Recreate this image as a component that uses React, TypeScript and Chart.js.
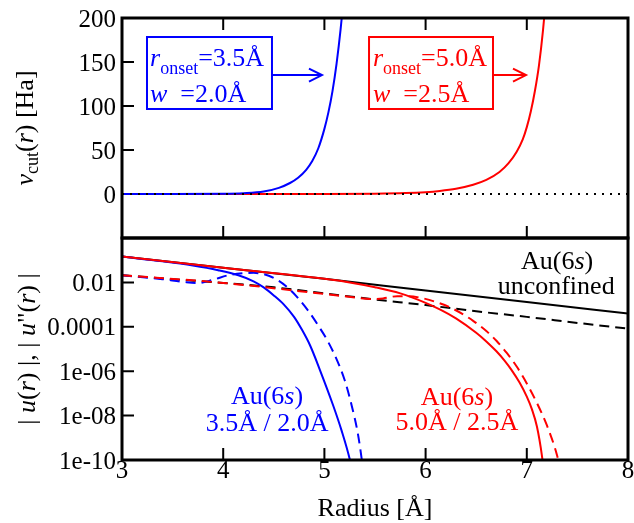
import React, { useEffect, useRef } from "react";
import { Chart, registerables } from "chart.js";

Chart.register(...registerables);

const SERIF = '"Liberation Serif", "Times New Roman", "DejaVu Serif", serif';
Chart.defaults.font.family = SERIF;
const FS_TICK = 25;
const FS = 26;
const BLUE = "#0000ff";
const RED = "#ff0000";
const BLACK = "#000000";

// ---------- axes ----------
const xMin = 3;
const xMax = 8;
const xTickValues = [3, 4, 5, 6, 7, 8];
const xTickLabels = ["3", "4", "5", "6", "7", "8"];
const xTitle = "Radius [Å]";
const topYMin = -50;
const topYMax = 200;
const topYTickValues = [0, 50, 100, 150, 200];
const topYTickLabels = ["0", "50", "100", "150", "200"];
const botYMin = 1e-10;
const botYMax = 1;
const botYTickValues = [1e-10, 1e-8, 1e-6, 1e-4, 1e-2];
const botYTickLabels = ["1e-10", "1e-08", "1e-06", "0.0001", "0.01"];

// ---------- top panel: v_cut(r) [Ha] ----------
const zeroR = [3, 8];
const zeroV = [0, 0];
const vcutBlueR = [3, 3.5, 4.0, 4.2, 4.4, 4.55, 4.66, 4.74, 4.82, 4.88, 4.94, 5.0, 5.04, 5.08, 5.12, 5.16, 5.2];
const vcutBlueV = [0, 0, 0.25, 0.9, 2.8, 7, 12.5, 18.5, 27.5, 37.5, 52, 74, 93, 117, 148, 187, 236];
const vcutRedR = [3, 5.0, 5.5, 5.8, 6.0, 6.14, 6.3, 6.47, 6.6, 6.73, 6.82, 6.9, 6.96, 7.0, 7.04, 7.08, 7.12, 7.16, 7.2];
const vcutRedV = [0, 0, 0.3, 1.0, 2.1, 3.5, 6.0, 10.5, 16, 25, 35, 48, 62, 76, 94, 117, 146, 186, 238];

// ---------- bottom panel: |u(r)|, |u''(r)| ----------
const uFreeR = [3, 4, 5, 6, 7, 8];
const uFreeV = [1.45e-1, 4.6e-2, 1.45e-2, 4.3e-3, 1.3e-3, 4.0e-4];
const d2FreeR = [3, 3.5, 4, 4.5, 5, 5.5, 6, 6.5, 7, 7.5, 8];
const d2FreeV = [2.1e-2, 1.4e-2, 9.5e-3, 6.0e-3, 3.2e-3, 1.7e-3, 9.5e-4, 5.0e-4, 2.8e-4, 1.5e-4, 8.3e-5];

const uBlueR = [3, 3.4, 3.7, 3.95, 4.15, 4.3, 4.4, 4.5, 4.6, 4.7, 4.78, 4.86, 4.957, 5.085, 5.17, 5.25, 5.3];
const uBlueV = [1.45e-1, 8.9e-2, 5.75e-2, 3.55e-2, 2.1e-2, 1.12e-2, 6.0e-3, 2.6e-3, 1.0e-3, 2.8e-4, 7.1e-5, 1.4e-5, 1.1e-6, 3.0e-8, 2.1e-9, 1.1e-10, 8.7e-12];
const d2BlueR = [3, 3.4, 3.6, 3.75, 3.9, 4.05, 4.2, 4.3, 4.45, 4.55, 4.65, 4.75, 4.85, 4.94, 5.03, 5.12, 5.2, 5.27, 5.33, 5.37, 5.41];
const d2BlueV = [2.1e-2, 1.4e-2, 1.07e-2, 9.3e-3, 1.32e-2, 2.1e-2, 2.6e-2, 2.7e-2, 2.0e-2, 1.17e-2, 5.2e-3, 1.74e-3, 4.6e-4, 1.12e-4, 2.4e-5, 3.5e-6, 4.0e-7, 2.8e-8, 1.6e-9, 1.0e-10, 3.2e-12];

const uRedR = [3, 4, 5, 5.25, 5.5, 5.75, 6.0, 6.15, 6.3, 6.5, 6.6, 6.7, 6.78, 6.85, 6.93, 7.0, 7.05, 7.1, 7.15, 7.18];
const uRedV = [1.45e-1, 4.6e-2, 1.45e-2, 1.0e-2, 6.1e-3, 3.2e-3, 1.2e-3, 5.8e-4, 2.4e-4, 5.4e-5, 2.2e-5, 7.9e-6, 3.0e-6, 1.12e-6, 3.0e-7, 7.1e-8, 1.95e-8, 3.2e-9, 1.5e-10, 1.0e-11];
const d2RedR = [3, 4, 5, 5.3, 5.45, 5.58, 5.72, 5.84, 5.945, 6.1, 6.27, 6.47, 6.6, 6.7, 6.8, 6.9, 7.0, 7.1, 7.2, 7.3, 7.35];
const d2RedV = [2.1e-2, 9.5e-3, 3.0e-3, 2.1e-3, 1.78e-3, 1.9e-3, 2.4e-3, 2.4e-3, 2.05e-3, 1.32e-3, 6.5e-4, 1.86e-4, 6.5e-5, 2.35e-5, 6.8e-6, 1.62e-6, 2.8e-7, 3.7e-8, 3.5e-9, 1.55e-10, 1.5e-11];

const pts = (xs: number[], ys: number[]) => xs.map((x, i) => ({ x, y: ys[i] }));

type Part = { t: string; i?: boolean; sub?: boolean };

function fontOf(p: Part, size: number) {
  const s = p.sub ? Math.round(size * 0.7) : size;
  return `${p.i ? "italic " : ""}${s}px ${SERIF}`;
}

function drawRich(ctx: CanvasRenderingContext2D, parts: Part[], x: number, y: number, color: string, align: "left" | "center" | "right", size = FS, subDy = 8) {
  ctx.fillStyle = color;
  ctx.textAlign = "left";
  ctx.textBaseline = "alphabetic";
  let w = 0;
  for (const p of parts) {
    ctx.font = fontOf(p, size);
    w += ctx.measureText(p.t).width;
  }
  let cx = align === "center" ? x - w / 2 : align === "right" ? x - w : x;
  for (const p of parts) {
    ctx.font = fontOf(p, size);
    ctx.fillText(p.t, cx, y + (p.sub ? subDy : 0));
    cx += ctx.measureText(p.t).width;
  }
}

function drawArrow(ctx: CanvasRenderingContext2D, x1: number, y: number, x2: number, color: string) {
  ctx.strokeStyle = color;
  ctx.lineWidth = 2;
  ctx.beginPath();
  ctx.moveTo(x1, y);
  ctx.lineTo(x2, y);
  ctx.stroke();
  ctx.beginPath();
  ctx.moveTo(x2 - 13, y - 6.5);
  ctx.lineTo(x2, y);
  ctx.lineTo(x2 - 13, y + 6.5);
  ctx.stroke();
}

type PanelCfg = {
  yTicks: number[];
  yLabels: string[];
  xTop: boolean;
  xBottom: boolean;
  xLabels: boolean;
  decorate: (ctx: CanvasRenderingContext2D, chart: any) => void;
};

function panelPlugin(cfg: PanelCfg) {
  return {
    id: "panel",
    beforeDatasetsDraw(chart: any) {
      const { ctx, chartArea: a, scales } = chart;
      const L = 12;
      ctx.save();
      ctx.strokeStyle = BLACK;
      ctx.lineWidth = 2;
      ctx.beginPath();
      for (const v of xTickValues) {
        if (v === xMin || v === xMax) continue;
        const px = scales.x.getPixelForValue(v);
        if (cfg.xTop) {
          ctx.moveTo(px, a.top);
          ctx.lineTo(px, a.top + L);
        }
        if (cfg.xBottom) {
          ctx.moveTo(px, a.bottom);
          ctx.lineTo(px, a.bottom - L);
        }
      }
      for (const v of cfg.yTicks) {
        const py = scales.y.getPixelForValue(v);
        ctx.moveTo(a.left, py);
        ctx.lineTo(a.left + L, py);
      }
      ctx.stroke();
      ctx.restore();
    },
    afterDatasetsDraw(chart: any) {
      const { ctx, chartArea: a, scales } = chart;
      ctx.save();
      ctx.strokeStyle = BLACK;
      ctx.lineWidth = 3;
      ctx.strokeRect(a.left, a.top, a.right - a.left, a.bottom - a.top);
      // y tick labels
      ctx.fillStyle = BLACK;
      ctx.font = `${FS_TICK}px ${SERIF}`;
      ctx.textAlign = "right";
      ctx.textBaseline = "alphabetic";
      cfg.yTicks.forEach((v, i) => {
        const py = scales.y.getPixelForValue(v);
        ctx.fillText(cfg.yLabels[i], a.left - 6, py + 8.5);
      });
      if (cfg.xLabels) {
        ctx.textAlign = "center";
        xTickValues.forEach((v, i) => {
          ctx.fillText(xTickLabels[i], scales.x.getPixelForValue(v), a.bottom + 18);
        });
        ctx.font = `${FS}px ${SERIF}`;
        ctx.fillText(xTitle, (a.left + a.right) / 2, a.bottom + 56);
      }
      cfg.decorate(ctx, chart);
      ctx.restore();
    },
  };
}

function baseOptions(padding: any, yScale: any): any {
  return {
    animation: false,
    responsive: false,
    events: [],
    layout: { padding },
    plugins: { legend: { display: false }, tooltip: { enabled: false } },
    elements: { point: { radius: 0 }, line: { cubicInterpolationMode: "monotone", fill: false } },
    scales: {
      x: { type: "linear", min: xMin, max: xMax, display: false },
      y: { ...yScale, display: false },
    },
  };
}

function topConfig(): any {
  const decorate = (ctx: CanvasRenderingContext2D, chart: any) => {
    const { chartArea: a, scales } = chart;
    const X = (v: number) => scales.x.getPixelForValue(v);
    const Y = (v: number) => scales.y.getPixelForValue(v);
    // blue box
    ctx.strokeStyle = BLUE;
    ctx.lineWidth = 2;
    ctx.strokeRect(X(3.247), Y(178.4), X(4.482) - X(3.247), Y(96.6) - Y(178.4));
    drawRich(ctx, [{ t: "r", i: true }, { t: "onset", sub: true }, { t: "=3.5Å" }], X(3.277), Y(145.5), BLUE, "left");
    drawRich(ctx, [{ t: "w", i: true }, { t: "  =2.0Å" }], X(3.277), Y(104.5), BLUE, "left");
    drawArrow(ctx, X(4.482), Y(135.2), X(4.976), BLUE);
    // red box
    ctx.strokeStyle = RED;
    ctx.lineWidth = 2;
    ctx.strokeRect(X(5.441), Y(178.4), X(6.666) - X(5.441), Y(96.6) - Y(178.4));
    drawRich(ctx, [{ t: "r", i: true }, { t: "onset", sub: true }, { t: "=5.0Å" }], X(5.48), Y(145.5), RED, "left");
    drawRich(ctx, [{ t: "w", i: true }, { t: "  =2.5Å" }], X(5.48), Y(104.5), RED, "left");
    drawArrow(ctx, X(6.666), Y(135.2), X(6.992), RED);
    // y title
    ctx.save();
    ctx.translate(33, (a.top + a.bottom) / 2);
    ctx.rotate(-Math.PI / 2);
    drawRich(ctx, [{ t: "v", i: true }, { t: "cut", sub: true }, { t: "(" }, { t: "r", i: true }, { t: ") [Ha]" }], 0, 0, BLACK, "center", FS, 5);
    ctx.restore();
  };
  return {
    type: "line",
    data: {
      datasets: [
        { data: pts(zeroR, zeroV), borderColor: BLACK, borderWidth: 2, borderDash: [2, 6], order: 0, cubicInterpolationMode: "default", tension: 0 },
        { data: pts(vcutBlueR, vcutBlueV), borderColor: BLUE, borderWidth: 2, order: 1 },
        { data: pts(vcutRedR, vcutRedV), borderColor: RED, borderWidth: 2, order: 2 },
      ],
    },
    options: baseOptions({ top: 18, bottom: 285, left: 122, right: 6 }, { type: "linear", min: topYMin, max: topYMax }),
    plugins: [panelPlugin({ yTicks: topYTickValues, yLabels: topYTickLabels, xTop: true, xBottom: true, xLabels: false, decorate })],
  };
}

function bottomConfig(): any {
  const decorate = (ctx: CanvasRenderingContext2D, chart: any) => {
    const { chartArea: a, scales } = chart;
    const X = (v: number) => scales.x.getPixelForValue(v);
    const Y = (v: number) => scales.y.getPixelForValue(v);
    const au = (c: string, x: number, y: number) =>
      drawRich(ctx, [{ t: "Au(6" }, { t: "s", i: true }, { t: ")" }], X(x), Y(y), c, "center");
    au(BLACK, 7.3, 4.0e-2);
    drawRich(ctx, [{ t: "unconfined" }], X(7.29), Y(3.0e-3), BLACK, "center");
    au(BLUE, 4.433, 3.3e-8);
    drawRich(ctx, [{ t: "3.5Å / 2.0Å" }], X(4.433), Y(2.1e-9), BLUE, "center");
    au(RED, 6.31, 3.0e-8);
    drawRich(ctx, [{ t: "5.0Å / 2.5Å" }], X(6.31), Y(2.2e-9), RED, "center");
    // y title
    ctx.save();
    ctx.translate(35, (a.top + a.bottom) / 2);
    ctx.rotate(-Math.PI / 2);
    drawRich(
      ctx,
      [
        { t: "| " },
        { t: "u", i: true },
        { t: "(" },
        { t: "r", i: true },
        { t: ") |, | " },
        { t: "u", i: true },
        { t: '"(' },
        { t: "r", i: true },
        { t: ") |" },
      ],
      0,
      0,
      BLACK,
      "center"
    );
    ctx.restore();
  };
  const solid = (xs: number[], ys: number[], c: string, order: number) => ({ data: pts(xs, ys), borderColor: c, borderWidth: 2, order });
  const dashed = (xs: number[], ys: number[], c: string, order: number) => ({ data: pts(xs, ys), borderColor: c, borderWidth: 2, borderDash: [10, 6], order });
  return {
    type: "line",
    data: {
      datasets: [
        solid(uFreeR, uFreeV, BLACK, 6),
        dashed(d2FreeR, d2FreeV, BLACK, 5),
        solid(uBlueR, uBlueV, BLUE, 3),
        dashed(d2BlueR, d2BlueV, BLUE, 4),
        solid(uRedR, uRedV, RED, 1),
        dashed(d2RedR, d2RedV, RED, 2),
      ],
    },
    options: baseOptions({ top: 238, bottom: 63, left: 122, right: 6 }, { type: "logarithmic", min: botYMin, max: botYMax }),
    plugins: [panelPlugin({ yTicks: botYTickValues, yLabels: botYTickLabels, xTop: false, xBottom: true, xLabels: true, decorate })],
  };
}

function Panel({ make }: { make: () => any }) {
  const ref = useRef<HTMLCanvasElement | null>(null);
  useEffect(() => {
    if (!ref.current) return;
    const chart = new Chart(ref.current, make());
    return () => chart.destroy();
  }, [make]);
  return <canvas ref={ref} width={634} height={523} style={{ position: "absolute", left: 0, top: 0, width: 634, height: 523 }} />;
}

export default function App() {
  return (
    <div style={{ position: "fixed", left: 0, top: 0, width: 634, height: 523, background: "#fff", overflow: "hidden" }}>
      <Panel make={bottomConfig} />
      <Panel make={topConfig} />
    </div>
  );
}
